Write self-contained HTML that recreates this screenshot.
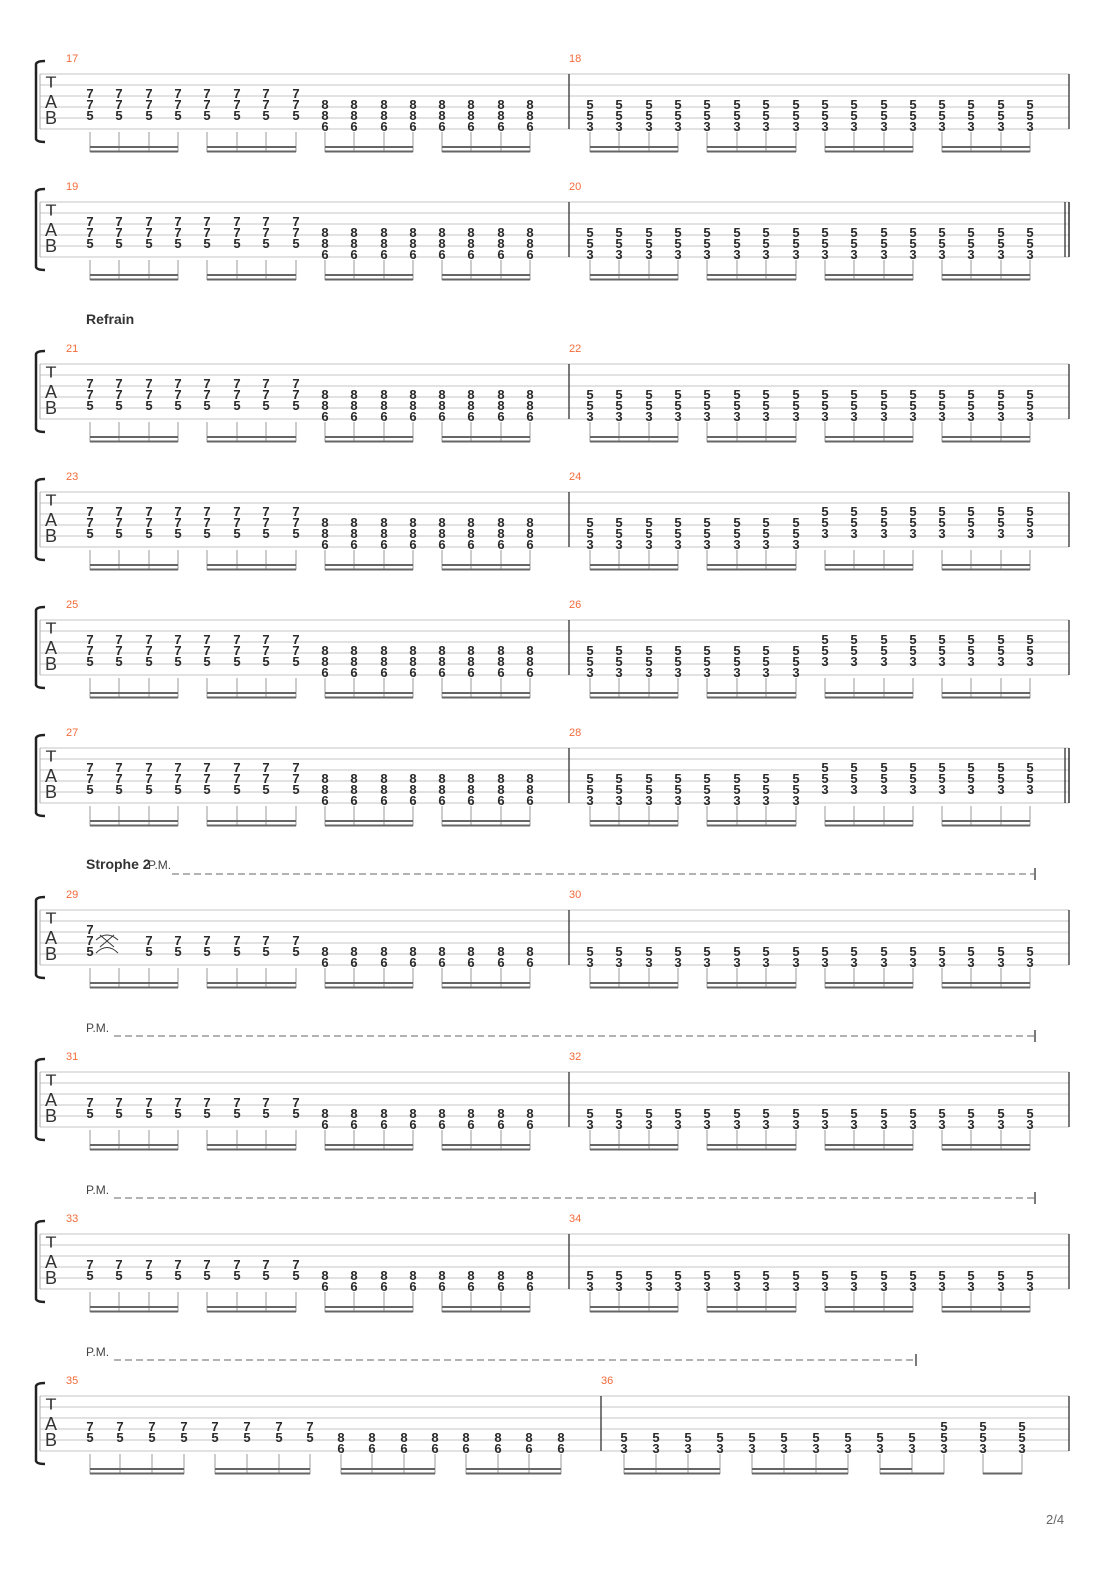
<!DOCTYPE html>
<html><head><meta charset="utf-8"><style>
html,body{margin:0;padding:0;background:#fff;}
svg{display:block;}
.d{font-family:"Liberation Sans",sans-serif;font-weight:bold;font-size:13px;fill:#2a2a2a;text-anchor:middle;}
.n{font-family:"Liberation Sans",sans-serif;font-size:11px;fill:#f26b3a;}
.tab{font-family:"Liberation Sans",sans-serif;font-size:18px;fill:#333;text-anchor:middle;}
.h{font-family:"Liberation Sans",sans-serif;font-weight:bold;font-size:14px;fill:#333;}
.pm{font-family:"Liberation Sans",sans-serif;font-size:12px;fill:#444;}
</style></head><body>
<svg width="1110" height="1570" viewBox="0 0 1110 1570" xmlns="http://www.w3.org/2000/svg">
<defs>
<g id="staff">
  <path d="M40,0H1069M40,11H1069M40,22H1069M40,33H1069M40,44H1069M40,55H1069" stroke="#c4c4c4" stroke-width="1"/>
  <path d="M40,0V55" stroke="#aaa" stroke-width="1"/>
  <path d="M45,-13Q37,-13 36,-10V65Q37,68 45,68" fill="none" stroke="#222" stroke-width="2.5"/>
  <text class="tab" x="51" y="16" transform="translate(51,0) scale(1,0.85) translate(-51,0)">T</text>
  <text class="tab" x="51" y="34">A</text>
  <text class="tab" x="51" y="50">B</text>
</g>
<g id="std">
  <use href="#staff"/>
  <path d="M569,0V55M1069,0V55" stroke="#333" stroke-width="1.3"/>
  <path d="M90,58V78M119,58V78M149,58V78M178,58V78M207,58V78M237,58V78M266,58V78M296,58V78M325,58V78M354,58V78M384,58V78M413,58V78M442,58V78M471,58V78M501,58V78M530,58V78M590,58V78M619,58V78M649,58V78M678,58V78M707,58V78M737,58V78M766,58V78M796,58V78M825,58V78M854,58V78M884,58V78M913,58V78M942,58V78M971,58V78M1001,58V78M1030,58V78" stroke="#999" stroke-width="1"/>
  <g fill="#666">
    <rect x="90" y="72" width="88" height="2"/><rect x="90" y="76.5" width="88" height="2"/>
    <rect x="207" y="72" width="89" height="2"/><rect x="207" y="76.5" width="89" height="2"/>
    <rect x="325" y="72" width="88" height="2"/><rect x="325" y="76.5" width="88" height="2"/>
    <rect x="442" y="72" width="88" height="2"/><rect x="442" y="76.5" width="88" height="2"/>
    <rect x="590" y="72" width="88" height="2"/><rect x="590" y="76.5" width="88" height="2"/>
    <rect x="707" y="72" width="89" height="2"/><rect x="707" y="76.5" width="89" height="2"/>
    <rect x="825" y="72" width="88" height="2"/><rect x="825" y="76.5" width="88" height="2"/>
    <rect x="942" y="72" width="88" height="2"/><rect x="942" y="76.5" width="88" height="2"/>
  </g>
</g>
<g id="m1">
  <text class="d" x="90 119 149 178 207 237 266 296" y="24">77777777</text>
  <text class="d" x="90 119 149 178 207 237 266 296 325 354 384 413 442 471 501 530" y="35">7777777788888888</text>
  <text class="d" x="90 119 149 178 207 237 266 296 325 354 384 413 442 471 501 530" y="46">5555555588888888</text>
  <text class="d" x="325 354 384 413 442 471 501 530" y="57">66666666</text>
</g>
<g id="m2">
  <text class="d" x="590 619 649 678 707 737 766 796 825 854 884 913 942 971 1001 1030" y="35">5555555555555555</text>
  <text class="d" x="590 619 649 678 707 737 766 796 825 854 884 913 942 971 1001 1030" y="46">5555555555555555</text>
  <text class="d" x="590 619 649 678 707 737 766 796 825 854 884 913 942 971 1001 1030" y="57">3333333333333333</text>
</g>
<g id="m2v">
  <text class="d" x="825 854 884 913 942 971 1001 1030" y="24">55555555</text>
  <text class="d" x="590 619 649 678 707 737 766 796 825 854 884 913 942 971 1001 1030" y="35">5555555555555555</text>
  <text class="d" x="590 619 649 678 707 737 766 796 825 854 884 913 942 971 1001 1030" y="46">5555555533333333</text>
  <text class="d" x="590 619 649 678 707 737 766 796" y="57">33333333</text>
</g>
<g id="pm1">
  <text class="d" x="90 119 149 178 207 237 266 296" y="35">77777777</text>
  <text class="d" x="90 119 149 178 207 237 266 296 325 354 384 413 442 471 501 530" y="46">5555555588888888</text>
  <text class="d" x="325 354 384 413 442 471 501 530" y="57">66666666</text>
</g>
<g id="pm2">
  <text class="d" x="590 619 649 678 707 737 766 796 825 854 884 913 942 971 1001 1030" y="46">5555555555555555</text>
  <text class="d" x="590 619 649 678 707 737 766 796 825 854 884 913 942 971 1001 1030" y="57">3333333333333333</text>
</g>
<path id="dbl" d="M1065,0V55M1069,0V55" stroke="#333" stroke-width="1.3"/>
</defs>

<g transform="translate(0,74)"><use href="#std"/><use href="#m1"/><use href="#m2"/>
<text class="n" x="66" y="-12">17</text><text class="n" x="569" y="-12">18</text></g>
<g transform="translate(0,202)"><use href="#std"/><use href="#m1"/><use href="#m2"/><use href="#dbl"/>
<text class="n" x="66" y="-12">19</text><text class="n" x="569" y="-12">20</text></g>

<text class="h" x="86" y="324">Refrain</text>
<g transform="translate(0,364)"><use href="#std"/><use href="#m1"/><use href="#m2"/>
<text class="n" x="66" y="-12">21</text><text class="n" x="569" y="-12">22</text></g>
<g transform="translate(0,492)"><use href="#std"/><use href="#m1"/><use href="#m2v"/>
<text class="n" x="66" y="-12">23</text><text class="n" x="569" y="-12">24</text></g>
<g transform="translate(0,620)"><use href="#std"/><use href="#m1"/><use href="#m2v"/>
<text class="n" x="66" y="-12">25</text><text class="n" x="569" y="-12">26</text></g>
<g transform="translate(0,748)"><use href="#std"/><use href="#m1"/><use href="#m2v"/><use href="#dbl"/>
<text class="n" x="66" y="-12">27</text><text class="n" x="569" y="-12">28</text></g>

<text class="h" x="86" y="869">Strophe 2</text>
<text class="pm" x="148" y="869">P.M.</text>
<path d="M172,874H1034" stroke="#999" stroke-width="1.6" stroke-dasharray="7,4"/>
<path d="M1035,868V880" stroke="#333" stroke-width="1.3"/>
<g transform="translate(0,910)"><use href="#std"/>
<text class="d" x="90" y="24">7</text>
<text class="d" x="90 149 178 207 237 266 296" y="35">7777777</text>
<text class="d" x="90 149 178 207 237 266 296 325 354 384 413 442 471 501 530" y="46">555555588888888</text>
<text class="d" x="325 354 384 413 442 471 501 530" y="57">66666666</text>
<path d="M96,30Q107,20 118,30M96,43Q107,32 118,43M100,25L114,37M114,25L100,37" fill="none" stroke="#333" stroke-width="0.9"/>
<use href="#pm2"/>
<text class="n" x="66" y="-12">29</text><text class="n" x="569" y="-12">30</text></g>

<text class="pm" x="86" y="1032">P.M.</text>
<path d="M114,1036H1034" stroke="#999" stroke-width="1.6" stroke-dasharray="7,4"/>
<path d="M1035,1030V1042" stroke="#333" stroke-width="1.3"/>
<g transform="translate(0,1072)"><use href="#std"/><use href="#pm1"/><use href="#pm2"/>
<text class="n" x="66" y="-12">31</text><text class="n" x="569" y="-12">32</text></g>

<text class="pm" x="86" y="1194">P.M.</text>
<path d="M114,1198H1034" stroke="#999" stroke-width="1.6" stroke-dasharray="7,4"/>
<path d="M1035,1192V1204" stroke="#333" stroke-width="1.3"/>
<g transform="translate(0,1234)"><use href="#std"/><use href="#pm1"/><use href="#pm2"/>
<text class="n" x="66" y="-12">33</text><text class="n" x="569" y="-12">34</text></g>

<text class="pm" x="86" y="1356">P.M.</text>
<path d="M114,1360H915" stroke="#999" stroke-width="1.6" stroke-dasharray="7,4"/>
<path d="M916,1354V1366" stroke="#333" stroke-width="1.3"/>
<g transform="translate(0,1396)"><use href="#staff"/>
<path d="M601,0V55M1069,0V55" stroke="#333" stroke-width="1.3"/>
<text class="d" x="90 120 152 184 215 247 279 310" y="35">77777777</text>
<text class="d" x="90 120 152 184 215 247 279 310 341 372 404 435 466 498 529 561" y="46">5555555588888888</text>
<text class="d" x="341 372 404 435 466 498 529 561" y="57">66666666</text>
<text class="d" x="944 983 1022" y="35">555</text>
<text class="d" x="624 656 688 720 752 784 816 848 880 912 944 983 1022" y="46">5555555555555</text>
<text class="d" x="624 656 688 720 752 784 816 848 880 912 944 983 1022" y="57">3333333333333</text>
<path d="M90,58V78M120,58V78M152,58V78M184,58V78M215,58V78M247,58V78M279,58V78M310,58V78M341,58V78M372,58V78M404,58V78M435,58V78M466,58V78M498,58V78M529,58V78M561,58V78M624,58V78M656,58V78M688,58V78M720,58V78M752,58V78M784,58V78M816,58V78M848,58V78M880,58V78M912,58V78M944,58V78M983,58V78M1022,58V78" stroke="#999" stroke-width="1"/>
<g fill="#666">
  <rect x="90" y="72" width="94" height="2"/><rect x="90" y="76.5" width="94" height="2"/>
  <rect x="215" y="72" width="95" height="2"/><rect x="215" y="76.5" width="95" height="2"/>
  <rect x="341" y="72" width="94" height="2"/><rect x="341" y="76.5" width="94" height="2"/>
  <rect x="466" y="72" width="95" height="2"/><rect x="466" y="76.5" width="95" height="2"/>
  <rect x="624" y="72" width="96" height="2"/><rect x="624" y="76.5" width="96" height="2"/>
  <rect x="752" y="72" width="96" height="2"/><rect x="752" y="76.5" width="96" height="2"/>
  <rect x="880" y="72" width="32" height="2"/><rect x="880" y="76.5" width="64" height="2"/>
  <rect x="983" y="76.5" width="39" height="2"/>
</g>
<text class="n" x="66" y="-12">35</text><text class="n" x="601" y="-12">36</text></g>

<text x="1046" y="1524" style="font-family:'Liberation Sans',sans-serif;font-size:13px;fill:#666">2/4</text>
</svg>
</body></html>
